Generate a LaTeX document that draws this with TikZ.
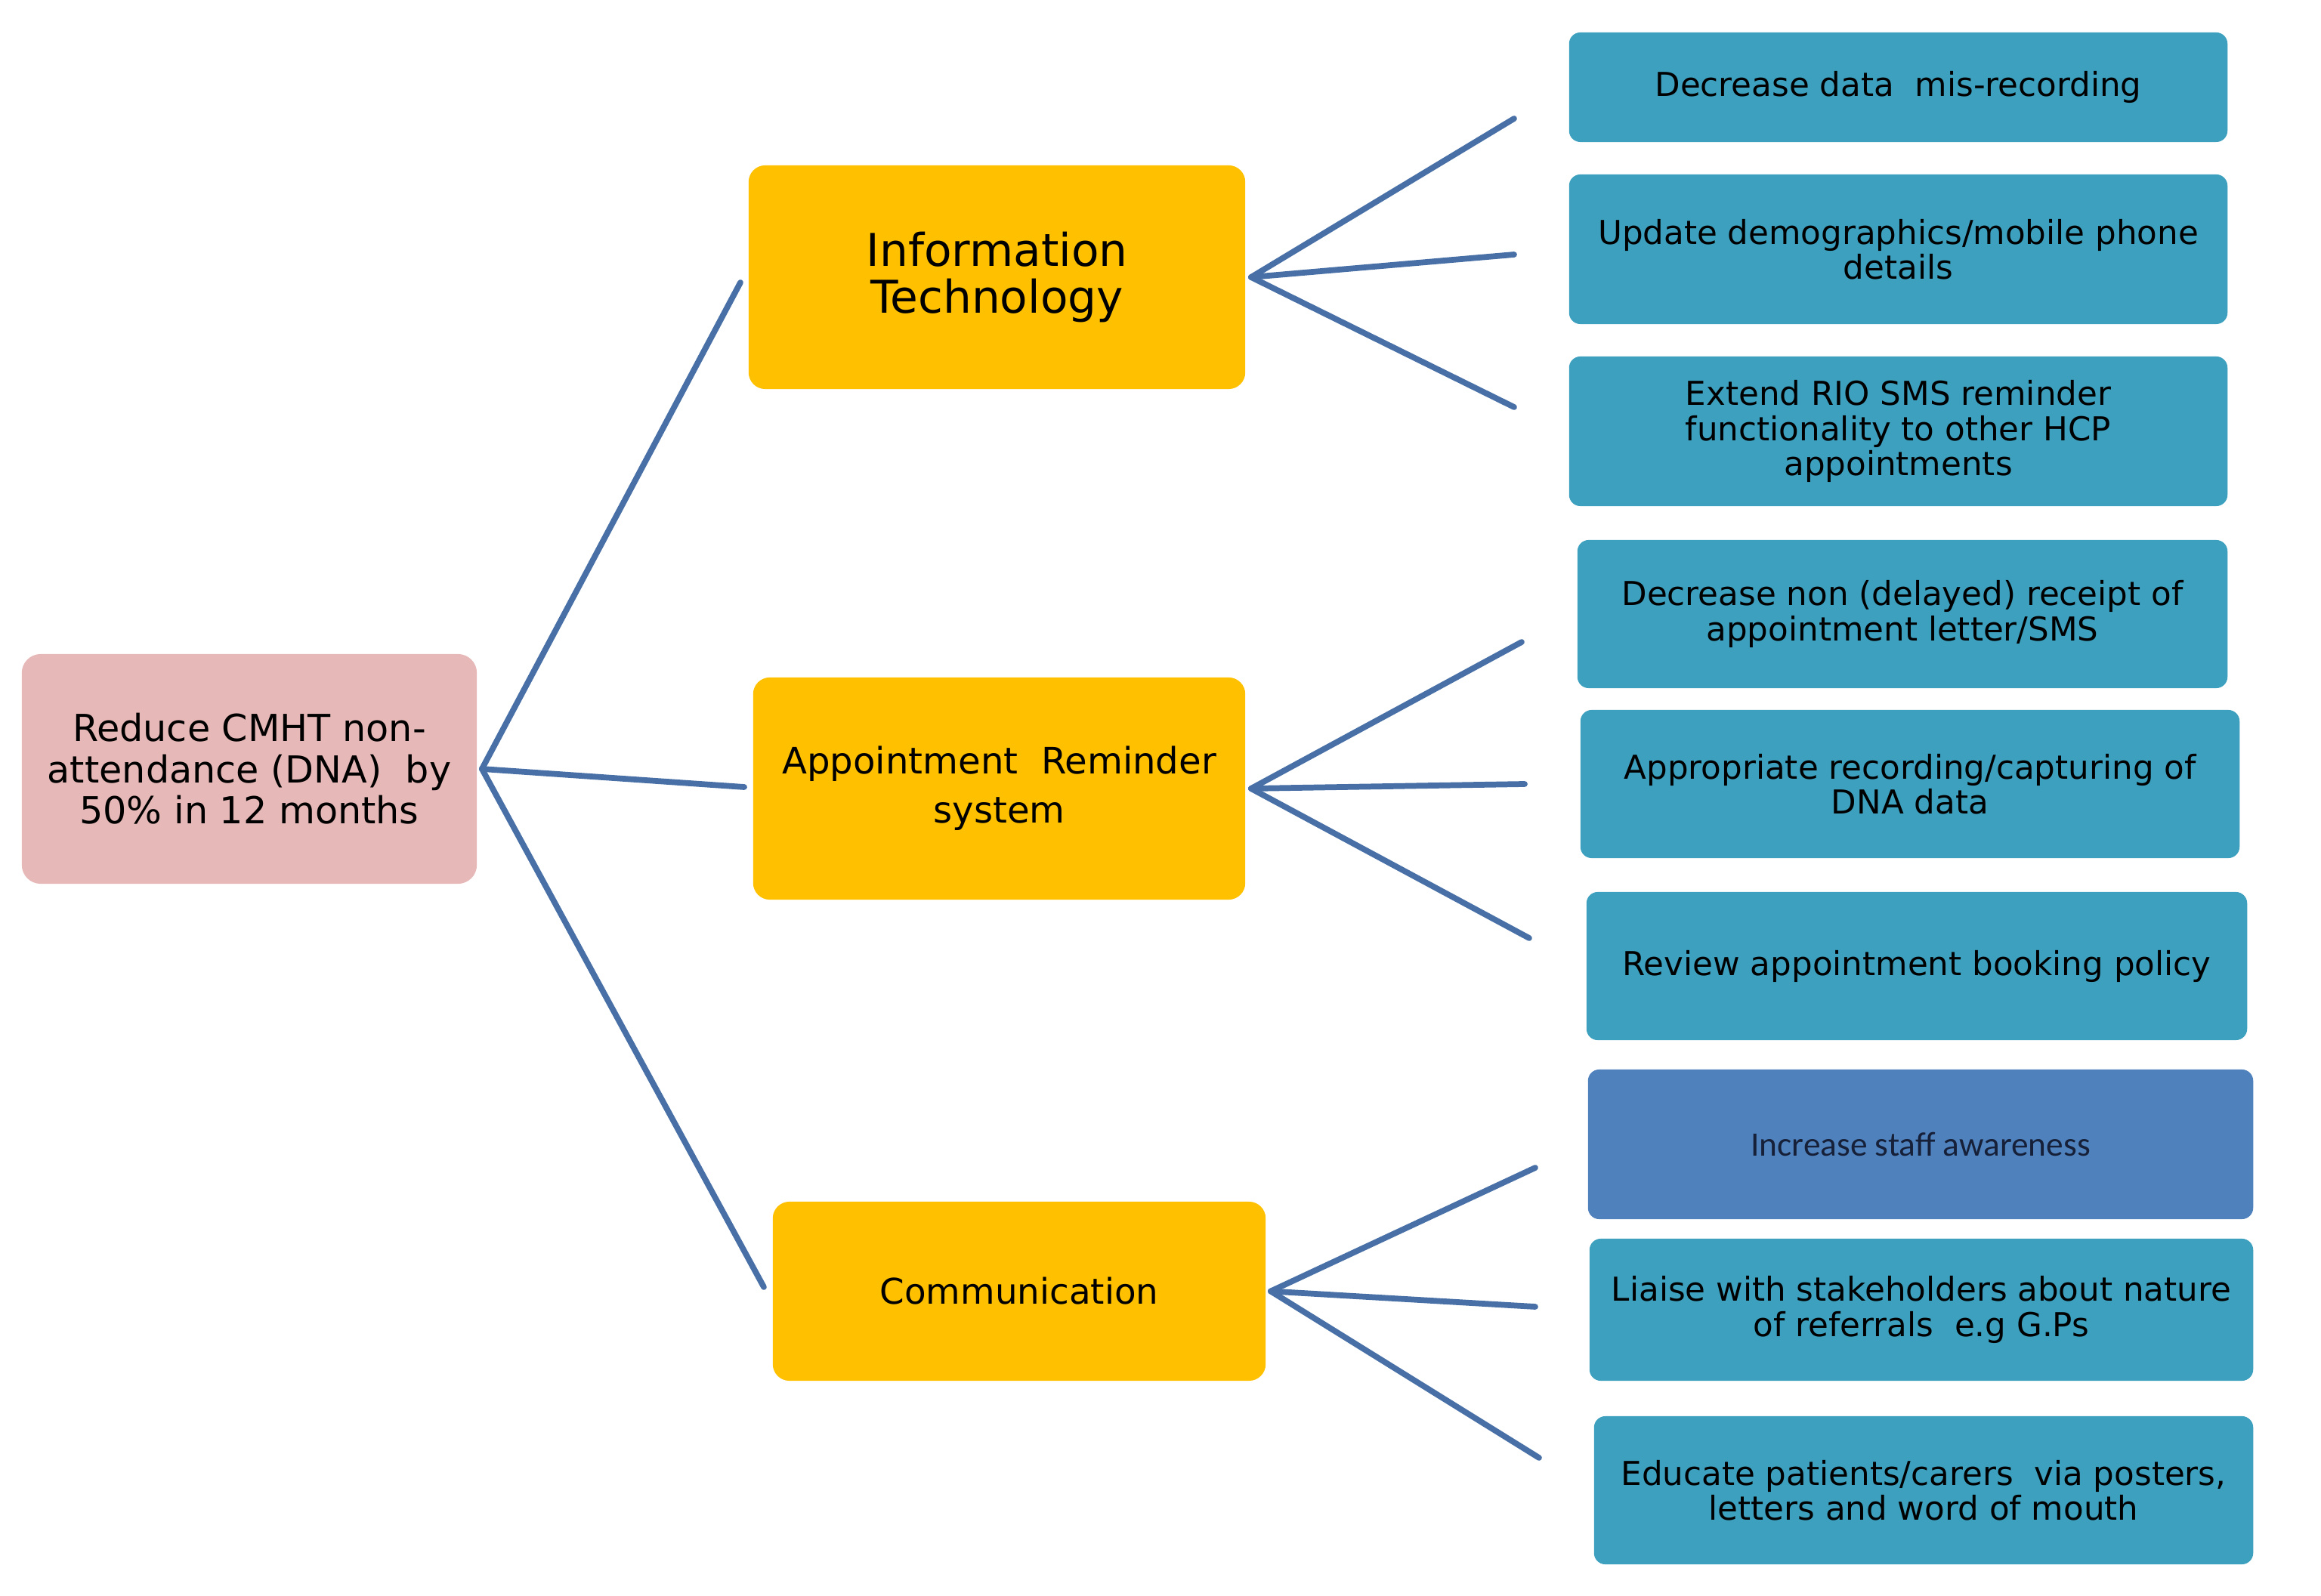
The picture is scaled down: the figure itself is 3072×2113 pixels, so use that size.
\documentclass[tikz,border=0pt]{standalone}
\usepackage{fontspec}
\setmainfont{DejaVu Sans}
\newfontfamily\calibrilike{Carlito}
\definecolor{rootfill}{RGB}{230,184,183}
\definecolor{themefill}{RGB}{255,192,0}
\definecolor{actionfill}{RGB}{60,160,190}
\definecolor{awarefill}{RGB}{79,129,189}
\definecolor{awaretext}{RGB}{22,32,56}
\definecolor{branch}{RGB}{72,112,166}
\tikzset{
  rootbox/.style={fill=rootfill, rounded corners=0.25cm, inner sep=0pt, align=center,
    font={\fontsize{14}{15.5}\selectfont}},
  themebox/.style={fill=themefill, rounded corners=0.22cm, inner sep=0pt, align=center},
  actionbox/.style={fill=actionfill, rounded corners=0.15cm, inner sep=0pt, align=center,
    font={\fontsize{12.4}{13.2}\selectfont}},
  branchline/.style={draw=branch, line width=2.2pt, line cap=round}
}
\begin{document}
\begin{tikzpicture}[x=0.01cm, y=-0.01cm]
\useasboundingbox (0,0) rectangle (3072,2113);

% goal
\node[rootbox, minimum width=6.02cm, minimum height=3.04cm] (goal) at (330,1018)
  {Reduce CMHT non-\\attendance (DNA)~~by\\50\% in 12 months};

% themes
\node[themebox, minimum width=6.57cm, minimum height=2.96cm,
  font={\fontsize{17}{17.8}\selectfont}] (it) at (1319.5,367)
  {Information\\Technology};
\node[themebox, minimum width=6.51cm, minimum height=2.94cm,
  font={\fontsize{13.7}{18.4}\selectfont}] (ars) at (1322.5,1044)
  {Appointment~~Reminder\\system};
\node[themebox, minimum width=6.52cm, minimum height=2.37cm,
  font={\fontsize{13.3}{15}\selectfont}] (comm) at (1349,1709.5)
  {Communication};

% actions
\node[actionbox, minimum width=8.71cm, minimum height=1.45cm] (a1) at (2512.5,115.5)
  {Decrease data~~mis-recording};
\node[actionbox, minimum width=8.71cm, minimum height=1.98cm] (a2) at (2512.5,330)
  {Update demographics/mobile phone\\details};
\node[actionbox, minimum width=8.71cm, minimum height=1.98cm] (a3) at (2512.5,571)
  {Extend RIO SMS reminder\\functionality to other HCP\\appointments};
\node[actionbox, minimum width=8.60cm, minimum height=1.96cm] (a4) at (2518,813)
  {Decrease non (delayed) receipt of\\appointment letter/SMS};
\node[actionbox, minimum width=8.72cm, minimum height=1.96cm] (a5) at (2528,1038)
  {Appropriate recording/capturing of\\DNA data};
\node[actionbox, minimum width=8.74cm, minimum height=1.96cm] (a6) at (2537,1279)
  {Review appointment booking policy};
\node[actionbox, fill=awarefill, text=awaretext, minimum width=8.80cm, minimum height=1.98cm,
  font={\calibrilike\fontsize{12.9}{14}\selectfont}] (a7) at (2542,1515)
  {Increase staff awareness};
\node[actionbox, minimum width=8.78cm, minimum height=1.88cm] (a8) at (2543,1734)
  {Liaise with stakeholders about nature\\of referrals~~e.g G.Ps};
\node[actionbox, minimum width=8.72cm, minimum height=1.96cm] (a9) at (2546,1973)
  {Educate patients/carers~~via posters,\\letters and word of mouth};

% free ends of the branches
\coordinate (g1) at (980,374);
\coordinate (g2) at (985,1042);
\coordinate (g3) at (1011,1704);
\coordinate (i1) at (2004,157);
\coordinate (i2) at (2004,337);
\coordinate (i3) at (2004,539);
\coordinate (r1) at (2014,850);
\coordinate (r2) at (2018,1038);
\coordinate (r3) at (2024,1242);
\coordinate (c1) at (2032,1546);
\coordinate (c2) at (2032,1730);
\coordinate (c3) at (2037,1930);

% branches
\foreach \e in {g1,g2,g3} \draw[branchline] ([xshift=0.06cm]goal.east) -- (\e);
\foreach \e in {i1,i2,i3} \draw[branchline] ([xshift=0.07cm]it.east) -- (\e);
\foreach \e in {r1,r2,r3} \draw[branchline] ([xshift=0.07cm]ars.east) -- (\e);
\foreach \e in {c1,c2,c3} \draw[branchline] ([xshift=0.06cm]comm.east) -- (\e);
\end{tikzpicture}
\end{document}
